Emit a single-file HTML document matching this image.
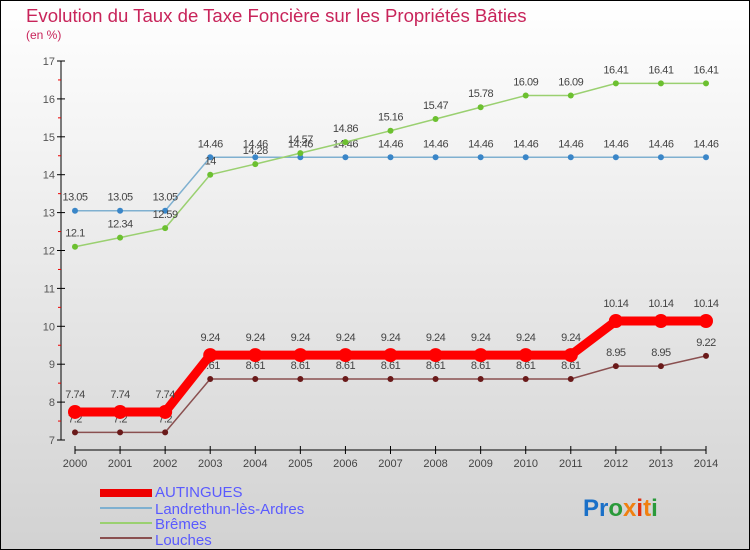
<!DOCTYPE html>
<html><head><meta charset="utf-8"><style>
body{margin:0}
svg{display:block;font-family:"Liberation Sans",sans-serif}
</style></head><body>
<svg width="750" height="550" xmlns="http://www.w3.org/2000/svg">
<defs><linearGradient id="bg" x1="0" y1="0" x2="0" y2="1"><stop offset="0" stop-color="#ffffff"/><stop offset="1" stop-color="#d2d2d2"/></linearGradient></defs>
<rect x="0.5" y="0.5" width="749" height="549" fill="url(#bg)" stroke="#000"/>
<text x="26" y="22" font-size="18.6" fill="#c8245a">Evolution du Taux de Taxe Foncière sur les Propriétés Bâties</text>
<text x="26" y="39" font-size="12" fill="#c8245a">(en %)</text>
<g id="axes"></g>
<g id="series"></g>
<g id="legend" font-size="15" fill="#5a5aff">
<rect x="100" y="489" width="52" height="8" fill="#e00"/>
<text x="155" y="497">AUTINGUES</text>
<line x1="100" y1="508" x2="152" y2="508" stroke="#7fb0d0" stroke-width="2"/>
<text x="155" y="514">Landrethun-lès-Ardres</text>
<line x1="100" y1="523" x2="152" y2="523" stroke="#9ad070" stroke-width="2"/>
<text x="155" y="529">Brêmes</text>
<line x1="100" y1="538" x2="152" y2="538" stroke="#8a5050" stroke-width="2"/>
<text x="155" y="545">Louches</text>
</g>
<g font-size="24" font-weight="bold">
<text x="583" y="516"><tspan fill="#1a70c8">Pr</tspan><tspan fill="#2a9a3a">o</tspan><tspan fill="#f08010">x</tspan><tspan fill="#e03010">i</tspan><tspan fill="#f08010">t</tspan><tspan fill="#2a9a3a">i</tspan></text>
</g>
</svg>
<script>
const years=[2000,2001,2002,2003,2004,2005,2006,2007,2008,2009,2010,2011,2012,2013,2014];
const autingues=[7.74,7.74,7.74,9.24,9.24,9.24,9.24,9.24,9.24,9.24,9.24,9.24,10.14,10.14,10.14];
const landrethun=[13.05,13.05,13.05,14.46,14.46,14.46,14.46,14.46,14.46,14.46,14.46,14.46,14.46,14.46,14.46];
const bremes=[12.1,12.34,12.59,14,14.28,14.57,14.86,15.16,15.47,15.78,16.09,16.09,16.41,16.41,16.41];
const louches=[7.2,7.2,7.2,8.61,8.61,8.61,8.61,8.61,8.61,8.61,8.61,8.61,8.95,8.95,9.22];
const yTicks=[7,8,9,10,11,12,13,14,15,16,17];
const NS="http://www.w3.org/2000/svg";
function X(i){return 75+i*(706-75)/(years.length-1);}
function Y(v){return 440-(v-7)*(440-61)/10;}
function mk(t,a,p){const e=document.createElementNS(NS,t);for(const k in a)e.setAttribute(k,a[k]);p.appendChild(e);return e;}
const ax=document.getElementById('axes');
let l=mk('line',{x1:61,y1:61,x2:61,y2:440,stroke:'#000'},ax);


yTicks.forEach((v,i)=>{
 mk('line',{x1:57,y1:Y(v),x2:65,y2:Y(v),stroke:'#000'},ax);
 if(i<yTicks.length-1)mk('line',{x1:58,y1:Y(v+0.5),x2:61,y2:Y(v+0.5),stroke:'#e00'},ax);
 const t=mk('text',{x:55,y:Y(v)+4,'text-anchor':'end','font-size':11,fill:'#555'},ax);t.textContent=v;
 
 
});
l=mk('line',{x1:75,y1:450,x2:706,y2:450,stroke:'#000'},ax);


years.forEach((y,i)=>{
 mk('line',{x1:X(i),y1:446,x2:X(i),y2:454,stroke:'#000'},ax);
 const t=mk('text',{x:X(i),y:467,'text-anchor':'middle','font-size':11,fill:'#444'},ax);t.textContent=y;
 
 
});
const sg=document.getElementById('series');
function series(name,data,color,w,r,dot,labelDy){
 const g=mk('g',{},sg);
 
 
 const pl=mk('polyline',{points:data.map((v,i)=>X(i)+','+Y(v)).join(' '),fill:'none',stroke:color,'stroke-width':w},g);
 
 
 data.forEach((v,i)=>{
  const c=mk('circle',{cx:X(i),cy:Y(v),r:r,fill:dot},g);
  
  
  const t=mk('text',{x:X(i),y:Y(v)+labelDy,'text-anchor':'middle','font-size':11,fill:'#444','letter-spacing':'-0.5'},g);t.textContent=v;
  
  
 });
}
series('landrethun',landrethun,'#7fb0d0',1.5,3,'#3a86c8',-10);
series('bremes',bremes,'#9ad070',1.5,3,'#6cc030',-10);
series('louches',louches,'#8a5050',1.5,3,'#6a1a1a',-10);
series('autingues',autingues,'#f00',9,7,'#f00',-14);
</script>
</body></html>
